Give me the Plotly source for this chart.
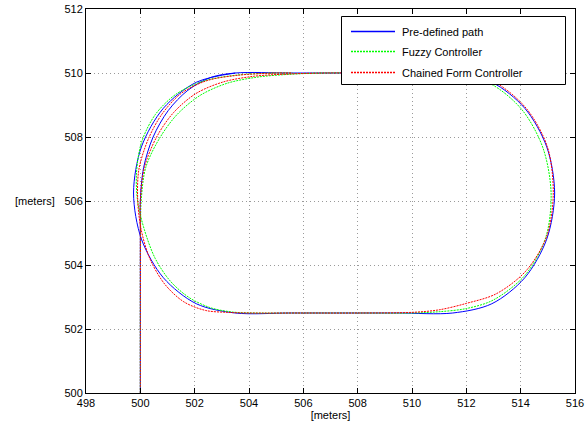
import plotly.graph_objects as go

# Pre-defined path: straight start, then one full lap of the stadium-shaped track
path_x = [500.0, 500.0, 500.0, 500.0,
          500.12, 500.47, 501.03, 501.75, 502.59, 503.5,
          505.5, 507.5, 509.5, 511.5,
          512.94, 514.15, 514.96, 515.25, 514.96, 514.15, 512.94, 511.5,
          509.5, 507.5, 505.5, 503.5,
          502.06, 500.85, 500.04, 499.75, 500.04, 500.85, 502.06, 503.5]
path_y = [500.0, 503.0, 505.3, 506.0,
          507.04, 508.0, 508.83, 509.46, 509.86, 510.0,
          510.0, 510.0, 510.0, 510.0,
          509.71, 508.9, 507.69, 506.25, 504.81, 503.6, 502.79, 502.5,
          502.5, 502.5, 502.5, 502.5,
          502.79, 503.6, 504.81, 506.25, 507.69, 508.9, 509.71, 510.0]

# Fuzzy controller trajectory
fuzzy_x = [500.0, 500.0, 500.01, 500.03,
           500.2, 500.7, 501.35, 502.2, 503.2, 504.3, 505.5, 506.8,
           508.5, 510.0, 511.5,
           512.9, 514.05, 514.82, 515.12, 514.92, 514.16, 512.98, 512.0, 511.0, 510.0,
           508.0, 506.0, 504.2,
           503.4, 502.6, 501.8, 501.1, 500.55, 500.15, 499.9, 499.86,
           500.05, 500.55, 501.3, 502.3, 503.5, 505.0, 505.6]
fuzzy_y = [500.0, 503.0, 505.3, 506.0,
           507.05, 507.95, 508.7, 509.3, 509.68, 509.87, 509.96, 510.0,
           510.0, 510.0, 510.0,
           509.66, 508.85, 507.66, 506.25, 504.85, 503.68, 502.9, 502.64, 502.54, 502.5,
           502.5, 502.5, 502.5,
           502.53, 502.66, 502.98, 503.5, 504.2, 505.1, 506.0, 506.9,
           507.85, 508.7, 509.33, 509.74, 509.93, 510.0, 510.0]

# Chained form controller trajectory
chained_x = [500.0, 500.0, 500.0, 500.0,
             500.15, 500.6, 501.22, 502.05, 503.05, 504.2, 505.5, 506.8,
             508.5, 510.0, 511.5,
             513.0, 514.2, 514.98, 515.2, 514.96, 514.2, 513.1, 512.0, 511.0, 510.0,
             508.0, 506.0, 504.0,
             503.2, 502.4, 501.6, 500.9, 500.35, 500.02, 499.9, 499.95,
             500.3, 500.8, 501.5, 502.45, 503.6, 505.0, 505.6]
chained_y = [500.0, 503.0, 505.3, 506.0,
             507.05, 508.0, 508.76, 509.36, 509.72, 509.9, 509.97, 510.0,
             510.0, 510.0, 510.02,
             509.73, 508.9, 507.7, 506.25, 504.9, 503.82, 503.1, 502.8, 502.6, 502.52,
             502.5, 502.5, 502.5,
             502.52, 502.58, 502.85, 503.4, 504.2, 505.15, 506.1, 507.0,
             507.95, 508.72, 509.36, 509.76, 509.93, 510.0, 510.0]

series_names = ["Pre-defined path", "Fuzzy Controller", "Chained Form Controller"]
series_colors = ["#0000ff", "#00ff00", "#ff0000"]
series_dash = ["solid", "2px,1px", "2px,1px"]

x_ticks = [498, 500, 502, 504, 506, 508, 510, 512, 514, 516]
y_ticks = [500, 502, 504, 506, 508, 510, 512]

FONT = "Liberation Sans, Arial, Helvetica, sans-serif"
W, H = 586, 427
M_L, M_R, M_T, M_B = 86, 11, 9, 34
PW, PH = W - M_L - M_R, H - M_T - M_B


def px_x(p):
    return (p - M_L) / PW


def px_y(p):
    return (H - M_B - p) / PH


fig = go.Figure()
for xs, ys, name, color, dash in zip([path_x, fuzzy_x, chained_x],
                                     [path_y, fuzzy_y, chained_y],
                                     series_names, series_colors, series_dash):
    fig.add_trace(go.Scatter(x=xs, y=ys, mode="lines", name=name, showlegend=False,
                             line=dict(color=color, width=1, dash=dash,
                                       shape="spline", smoothing=0.9)))

axis_common = dict(
    showline=True, linecolor="black", linewidth=1, mirror="ticks",
    ticks="inside", ticklen=5, tickcolor="black", tickwidth=1,
    showgrid=True, gridcolor="#9a9a9a", gridwidth=1, griddash="1px,3px",
    zeroline=False, automargin=False,
    tickfont=dict(family=FONT, size=11, color="black"),
)

fig.update_xaxes(range=[498, 516], tickvals=x_ticks, ticktext=[str(v) for v in x_ticks],
                 title=dict(text="[meters]", font=dict(family=FONT, size=11, color="black"),
                            standoff=2),
                 **axis_common)
fig.update_yaxes(range=[500, 512], tickvals=y_ticks, ticktext=[str(v) for v in y_ticks],
                 **axis_common)

fig.add_annotation(text="[meters]", xref="paper", yref="paper", x=-0.105, y=0.5,
                   xanchor="center", yanchor="middle", showarrow=False,
                   font=dict(family=FONT, size=11, color="black"))

# Boxed legend in the upper right corner
box_l, box_r, box_t, box_b = 341.5, 565.5, 16.5, 84.5
fig.add_shape(type="rect", xref="paper", yref="paper",
              x0=px_x(box_l), x1=px_x(box_r), y0=px_y(box_b), y1=px_y(box_t),
              line=dict(color="black", width=1), fillcolor="white", layer="above")
row_y = [31.5, 51.5, 72.5]
for ry, name, color, dash in zip(row_y, series_names, series_colors, series_dash):
    fig.add_shape(type="line", xref="paper", yref="paper",
                  x0=px_x(351), x1=px_x(395), y0=px_y(ry), y1=px_y(ry),
                  line=dict(color=color, width=1.3, dash=dash), layer="above")
    fig.add_annotation(text=name, xref="paper", yref="paper", x=px_x(400), y=px_y(ry),
                       xanchor="left", yanchor="middle", showarrow=False,
                       font=dict(family=FONT, size=11, color="black"))

fig.update_layout(
    width=W, height=H,
    margin=dict(l=M_L, r=M_R, t=M_T, b=M_B, autoexpand=False),
    paper_bgcolor="white", plot_bgcolor="white",
    font=dict(family=FONT, size=11, color="black"),
    showlegend=False,
)

fig.write_html("out.html")
